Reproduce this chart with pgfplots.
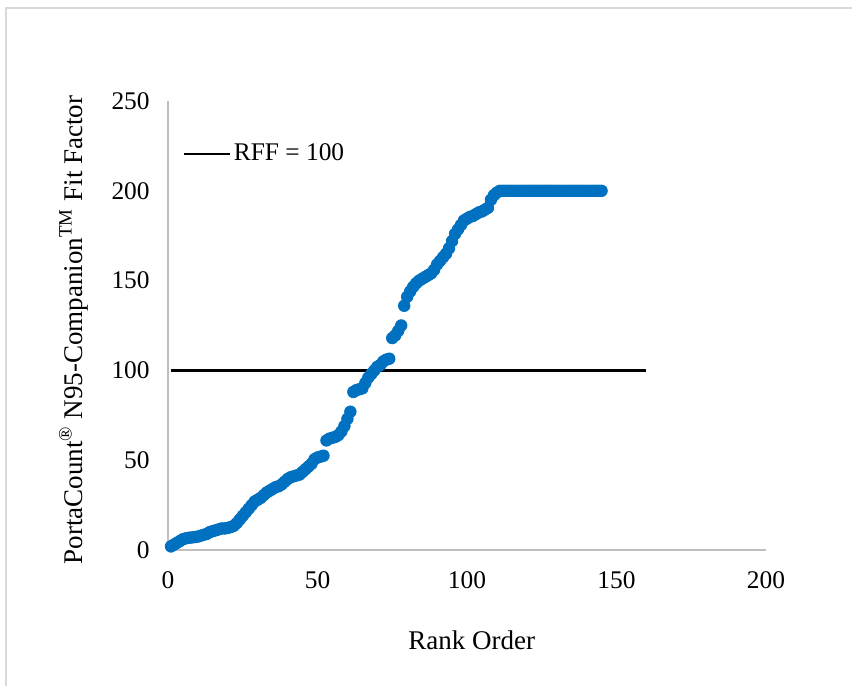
\documentclass[border=0pt]{standalone}
\usepackage{fontspec}
\setmainfont{Liberation Serif}
\usepackage{pgfplots}
\pgfplotsset{compat=1.18}

\definecolor{fitblue}{HTML}{0070C0}
\definecolor{axisgray}{HTML}{BFBFBF}
\definecolor{framegray}{HTML}{D9D9D9}

\begin{document}
\begin{tikzpicture}
% page extent and outer frame
\useasboundingbox (0,0) rectangle (426pt,343pt);
\draw[framegray, line width=0.8pt] (3pt,0pt) -- (3pt,339pt) -- (426pt,339pt);
\begin{axis}[
  at={(84pt,68pt)}, anchor=south west,
  scale only axis,
  width=299pt, height=224.5pt,
  xmin=0, xmax=200, ymin=0, ymax=250,
  xtick={0,50,...,200}, ytick={0,50,...,250},
  major tick length=0pt,
  axis x line=bottom, axis y line=left,
  axis line style={-, draw=axisgray, line width=0.8pt},
  /pgf/number format/assume math mode=true,
  ticklabel style={font=\fontsize{12.7}{15}\selectfont, inner sep=0pt},
  xticklabel style={anchor=north, yshift=-10.5pt},
  yticklabel style={anchor=east, xshift=-9pt},
  xlabel={Rank Order},
  ylabel={PortaCount\textsuperscript{®} N95-Companion\textsuperscript{TM} Fit Factor},
  label style={font=\fontsize{13.5}{16}\selectfont},
  xlabel style={at={(axis description cs:0.508,-0.2)}, anchor=center},
  ylabel style={at={(axis description cs:-0.158,0.49)}, anchor=center, rotate=0},
  legend style={at={(axis description cs:0.0234,0.882)}, anchor=west,
    draw=none, fill=none, inner sep=0pt, column sep=0pt,
    font=\fontsize{12.7}{15}\selectfont,
    nodes={inner sep=1.5pt}},
  legend cell align=left,
  legend image code/.code={\draw[#1] (0pt,0pt) -- (23pt,0pt);},
  clip=false,
]
% rank-ordered fit factors (capped at 200)
\addplot[only marks, mark=*, mark size=2.9pt, color=fitblue, forget plot] coordinates {
(1,2) (2,3) (3,4) (4,5) (5,6) (6,6.5) (7,6.8) (8,7) (9,7.2) (10,7.5)
(11,8) (12,8.5) (13,9) (14,10) (15,10.5) (16,11) (17,11.5) (18,12) (19,12) (20,12.3)
(21,12.8) (22,13.5) (23,15) (24,17) (25,19) (26,21) (27,23) (28,25) (29,27) (30,28)
(31,29) (32,30.5) (33,32) (34,33) (35,34) (36,35) (37,35.5) (38,36.5) (39,38) (40,39.5)
(41,40.5) (42,41) (43,41.5) (44,42) (45,43.5) (46,45) (47,46.5) (48,48) (49,50.5) (50,51.5)
(51,52) (52,52.5) (53,61) (54,62) (55,62.5) (56,63) (57,64) (58,66) (59,69) (60,73)
(61,77) (62,88) (63,89) (64,89.5) (65,90) (66,93) (67,96) (68,98) (69,100) (70,102)
(71,103) (72,105) (73,106) (74,106.5) (75,118) (76,119.5) (77,122) (78,125) (79,136) (80,141)
(81,144) (82,146.5) (83,148.5) (84,150) (85,151) (86,152) (87,153) (88,154) (89,156) (90,159)
(91,161) (92,163) (93,165) (94,168) (95,172) (96,176) (97,178.5) (98,181) (99,183.5) (100,184.5)
(101,185.5) (102,186) (103,187) (104,188) (105,188.5) (106,189.5) (107,190.5) (108,195) (109,197.5) (110,199)
(111,200) (112,200) (113,200) (114,200) (115,200) (116,200) (117,200) (118,200) (119,200) (120,200)
(121,200) (122,200) (123,200) (124,200) (125,200) (126,200) (127,200) (128,200) (129,200) (130,200)
(131,200) (132,200) (133,200) (134,200) (135,200) (136,200) (137,200) (138,200) (139,200) (140,200)
(141,200) (142,200) (143,200) (144,200) (145,200)
};
% required fit factor
\addplot[black, line width=1.25pt] coordinates {(1,100) (160,100)};
\addlegendentry{RFF = 100}
\end{axis}
\end{tikzpicture}
\end{document}
